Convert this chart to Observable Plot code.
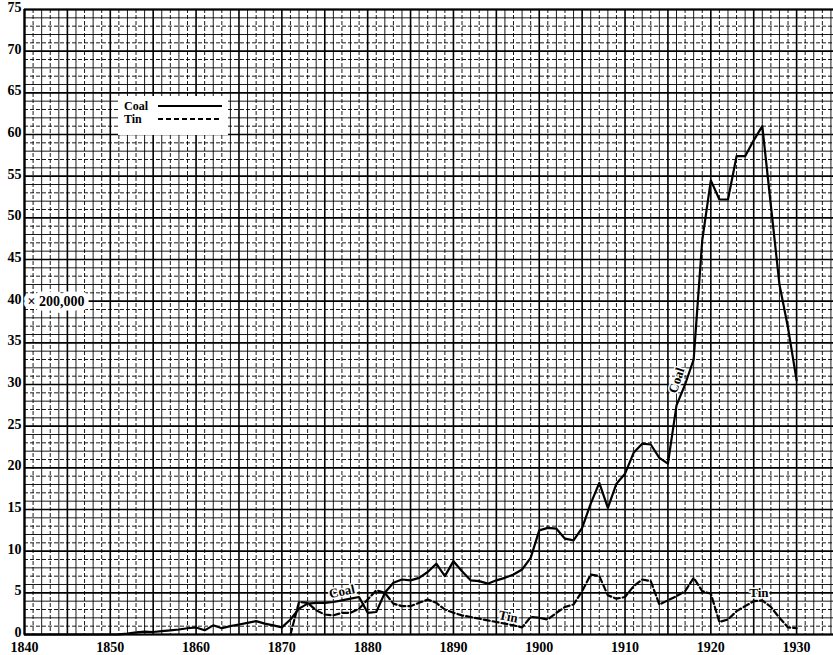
<!DOCTYPE html>
<html><head><meta charset="utf-8">
<script src="https://cdn.jsdelivr.net/npm/d3@7"></script>
<script src="https://cdn.jsdelivr.net/npm/@observablehq/plot@0.6"></script>
<style>
body{margin:0;background:#fff;}
#wrap{position:relative;width:833px;height:655px;overflow:hidden;background:#fff;}
#legend{position:absolute;left:118px;top:96px;width:110px;height:39px;background:#fff;}
</style></head><body><div id="wrap"></div>
<script>
// Production, in units of 200,000
const coalStart = 1840;
const coal = [
  0,0,0,0,0,0,0,0,0,0,
  0,0.02,0.1,0.25,0.35,0.3,0.4,0.5,0.6,0.75,
  0.85,0.5,1.1,0.75,1.0,1.2,1.4,1.6,1.3,1.1,
  0.85,1.8,3.1,3.7,3.8,3.8,3.9,4.1,4.3,4.5,
  2.6,2.7,5.0,6.2,6.6,6.5,6.8,7.5,8.5,7.0,
  8.8,7.6,6.5,6.4,6.1,6.5,6.8,7.2,7.8,9.2,
  12.5,12.8,12.7,11.5,11.3,12.8,15.7,18.2,15.2,18.1,
  19.3,21.8,22.9,22.8,21.2,20.5,27.5,30.0,33.0,47.3,
  54.5,52.2,52.2,57.4,57.4,59.3,61.0,51.5,42.0,36.8,
  30.5
];
const tinStart = 1871;
const tin = [
  0,3.9,3.8,2.9,2.4,2.3,2.6,2.6,3.1,
  4.2,5.3,5.0,3.7,3.4,3.4,3.8,4.2,3.8,3.0,
  2.6,2.3,2.1,1.9,1.7,1.5,1.3,1.1,0.85,2.1,
  2.0,1.8,2.6,3.3,3.6,5.2,7.2,7.0,4.7,4.3,
  4.5,5.8,6.6,6.4,3.6,4.1,4.6,5.2,6.8,5.2,
  4.9,1.5,1.8,2.8,3.4,4.0,4.1,3.3,2.0,0.85,
  0.75
];
const xTicks = [1840,1850,1860,1870,1880,1890,1900,1910,1920,1930];
const yTicks = [0,5,10,15,20,25,30,35,40,45,50,55,60,65,70,75];
const unitNote = "× 200,000";
const unitTick = 40;
const seriesNames = ["Coal", "Tin"];
const annotations = [
  {year: 1877, value: 4.2, text: "Coal", rotate: -12, dy: -8},
  {year: 1896.4, value: 1.3, text: "Tin", rotate: 12, dy: -7},
  {year: 1916.6, value: 30.5, text: "Coal", rotate: -72, dy: 0, dx: -5},
  {year: 1925.6, value: 4.0, text: "Tin", rotate: 0, dy: -8}
];

const coalData = coal.map((v, i) => ({year: coalStart + i, value: v}));
const tinData = tin.map((v, i) => ({year: tinStart + i, value: v}));

const gridYears = d3.range(1840, 1935);
const gridVals = d3.range(0, 76);
const majX = gridYears.filter(d => d % 5 === 0);
const solX = gridYears.filter(d => d % 5 !== 0 && d % 2 === 0);
const dashX = gridYears.filter(d => d % 5 !== 0 && d % 2 === 1);
const majY = gridVals.filter(d => d % 5 === 0);
const solY = gridVals.filter(d => d % 5 !== 0 && d % 2 === 0);
const dashY = gridVals.filter(d => d % 5 !== 0 && d % 2 === 1);

const font = '"Liberation Serif", "DejaVu Serif", serif';

const marks = [
  Plot.ruleX(solX, {stroke: "#000", strokeWidth: 0.9}),
  Plot.ruleX(dashX, {stroke: "#000", strokeWidth: 0.9, strokeDasharray: "4,2"}),
  Plot.ruleY(solY, {stroke: "#000", strokeWidth: 0.9}),
  Plot.ruleY(dashY, {stroke: "#000", strokeWidth: 0.9, strokeDasharray: "4,2"}),
  Plot.ruleX(majX, {stroke: "#000", strokeWidth: 1.6}),
  Plot.ruleY(majY, {stroke: "#000", strokeWidth: 1.6}),
  Plot.ruleX([1840], {stroke: "#000", strokeWidth: 2.2}),
  Plot.ruleY([0, 75], {stroke: "#000", strokeWidth: 2.2}),
  Plot.line(coalData, {x: "year", y: "value", stroke: "#000", strokeWidth: 2.2}),
  Plot.line(tinData, {x: "year", y: "value", stroke: "#000", strokeWidth: 2.2, strokeDasharray: "6,3"}),
  Plot.text([unitTick], {x: () => 1840, y: d => d, text: () => unitNote, textAnchor: "start", dx: 3,
    fontSize: 14, fontWeight: "bold", fill: "#000", stroke: "#fff", strokeWidth: 9, strokeLinejoin: "round", paintOrder: "stroke"}),
  Plot.axisX(xTicks, {tickSize: 0, tickPadding: 8, fontSize: 14, fontWeight: "bold", tickFormat: d => String(d)}),
  Plot.axisY(yTicks, {tickSize: 0, tickPadding: 3, fontSize: 14, fontWeight: "bold", dy: -2})
];
for (const a of annotations) {
  marks.push(Plot.text([a], {x: "year", y: "value", text: "text", rotate: a.rotate, dy: a.dy || 0, dx: a.dx || 0,
    fontSize: 13, fontWeight: "bold", fill: "#000", stroke: "#fff", strokeWidth: 3, paintOrder: "stroke"}));
}

const chart = Plot.plot({
  width: 833, height: 655,
  marginLeft: 24, marginRight: 0, marginTop: 9, marginBottom: 21,
  x: {domain: [1840, 1934.3], label: null},
  y: {domain: [0, 75], label: null},
  style: `font-family: ${font}; font-weight: bold; background: #fff; color: #000;`,
  marks
});
const wrap = document.getElementById("wrap");
wrap.appendChild(chart);

// legend box
const leg = document.createElement("div");
leg.id = "legend";
const ns = "http://www.w3.org/2000/svg";
const ls = document.createElementNS(ns, "svg");
ls.setAttribute("width", 110); ls.setAttribute("height", 39);
seriesNames.forEach((name, i) => {
  const t = document.createElementNS(ns, "text");
  t.setAttribute("x", 6); t.setAttribute("y", 14 + i * 13);
  t.setAttribute("font-family", font); t.setAttribute("font-weight", "bold"); t.setAttribute("font-size", 12);
  t.textContent = name; ls.appendChild(t);
  const l = document.createElementNS(ns, "line");
  l.setAttribute("x1", 40); l.setAttribute("x2", 104);
  l.setAttribute("y1", 10 + i * 13); l.setAttribute("y2", 10 + i * 13);
  l.setAttribute("stroke", "#000"); l.setAttribute("stroke-width", 2);
  if (i === 1) l.setAttribute("stroke-dasharray", "5,3");
  ls.appendChild(l);
});
leg.appendChild(ls);
wrap.appendChild(leg);
</script></body></html>
